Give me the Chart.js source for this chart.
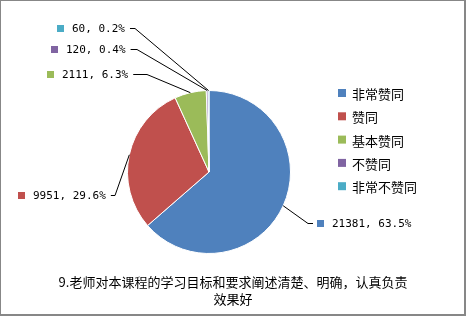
<!DOCTYPE html>
<html>
<head>
<meta charset="utf-8">
<script src="https://cdn.jsdelivr.net/npm/chart.js@4.4.0/dist/chart.umd.min.js"></script>
<style>
  html, body { margin: 0; padding: 0; background: #fff; }
  canvas { display: block; }
</style>
</head>
<body>
<canvas id="chart" width="466" height="316"></canvas>
<script>
// data
const categories = ['非常赞同', '赞同', '基本赞同', '不赞同', '非常不赞同']
const counts = [21381, 9951, 2111, 120, 60]
const percents = ['63.5%', '29.6%', '6.3%', '0.4%', '0.2%']
const colors = ['#4F81BD', '#C0504D', '#9BBB59', '#8064A2', '#4BACC6']
const titleLines = ['9.老师对本课程的学习目标和要求阐述清楚、明确，认真负责', '效果好']

const CJK = '"Noto Sans CJK SC", "Noto Sans", sans-serif'
const MONO = '"DejaVu Sans Mono", "Liberation Mono", monospace'

// where each data label sits (text left x, middle y) and its elbow x
const labelPlace = [
  { x: 332, y: 223, elbow: 308, side: 'right' },
  { x: 33, y: 195, elbow: 115, side: 'left' },
  { x: 62, y: 74, elbow: 147, side: 'left' },
  { x: 66, y: 49, elbow: 137, side: 'left' },
  { x: 72, y: 28, elbow: 135, side: 'left' },
]

const decorations = {
  id: 'decorations',
  afterDraw(chart) {
    const ctx = chart.ctx
    const meta = chart.getDatasetMeta(0)
    ctx.save()

    // frame
    ctx.strokeStyle = '#878787'
    ctx.lineWidth = 2
    ctx.strokeRect(0, 0, 465, 315)

    // data labels with leader lines
    ctx.font = '11px ' + MONO
    ctx.textBaseline = 'middle'
    meta.data.forEach((arc, i) => {
      const p = labelPlace[i]
      const text = counts[i] + ', ' + percents[i]
      const tw = ctx.measureText(text).width
      const mid = (arc.startAngle + arc.endAngle) / 2
      const r = arc.outerRadius
      const ax = arc.x + Math.cos(mid) * r
      const ay = arc.y + Math.sin(mid) * r
      let lineEnd
      if (p.side === 'left') {
        lineEnd = p.x + tw + 5
      } else {
        lineEnd = p.x - 19
      }
      ctx.strokeStyle = '#000'
      ctx.lineWidth = 1
      ctx.beginPath()
      ctx.moveTo(ax, ay)
      ctx.lineTo(p.elbow, p.y + 0.5)
      ctx.lineTo(lineEnd, p.y + 0.5)
      ctx.stroke()

      ctx.fillStyle = colors[i]
      ctx.fillRect(p.x - 15, p.y - 3, 7, 7)
      ctx.fillStyle = '#000'
      ctx.fillText(text, p.x, p.y + 1)
    })

    // legend
    ctx.font = '13px ' + CJK
    categories.forEach((c, i) => {
      const y = 93 + i * 23.3
      ctx.fillStyle = colors[i]
      ctx.fillRect(338, y - 4, 8, 8)
      ctx.fillStyle = '#000'
      ctx.fillText(c, 352, y + 1)
    })

    // title under the pie
    ctx.textAlign = 'center'
    ctx.font = '13px ' + CJK
    titleLines.forEach((t, i) => {
      ctx.fillText(t, 233, 282 + i * 17)
    })
    ctx.restore()
  }
}

new Chart(document.getElementById('chart'), {
  type: 'pie',
  data: {
    labels: categories,
    datasets: [
      {
        data: counts,
        backgroundColor: colors,
        borderColor: '#fff',
        borderWidth: 1,
      },
    ],
  },
  options: {
    responsive: false,
    animation: false,
    devicePixelRatio: 1,
    layout: {
      padding: { left: 127, right: 175, top: 90, bottom: 62 },
    },
    plugins: {
      legend: { display: false },
      tooltip: { enabled: false },
      title: { display: false },
    },
  },
  plugins: [decorations],
})
</script>
</body>
</html>
